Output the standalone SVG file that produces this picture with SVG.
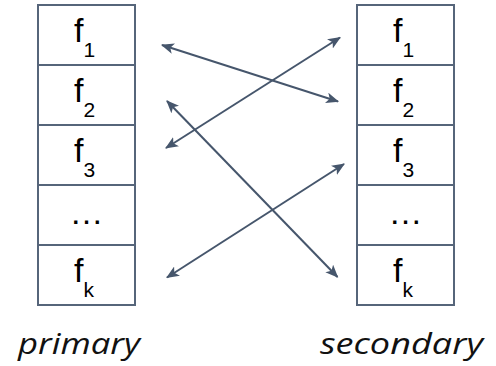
<svg xmlns="http://www.w3.org/2000/svg" width="496" height="366" viewBox="0 0 496 366">
<style>
.cell{fill:#fff;stroke:#56657a;stroke-width:2}
.f{font-family:"Liberation Sans",Arial,sans-serif;font-size:34px;fill:#000}
.sub{font-size:21px}
.lab{font-family:"Open Sans","Liberation Sans",sans-serif;font-style:italic;font-size:29px;fill:#111}
.arr{stroke:#46566c;stroke-width:2;fill:none;marker-start:url(#h);marker-end:url(#h)}
</style>
<defs>
<marker id="h" viewBox="0 0 12 10" refX="11" refY="5" markerWidth="6.5" markerHeight="5.5" orient="auto-start-reverse" markerUnits="strokeWidth">
<path d="M0,0 L12,5 L0,10 L3,5 Z" fill="#46566c"/>
</marker>
</defs>
<g id="primary">
<rect class="cell" x="38" y="5" width="97" height="60"/>
<rect class="cell" x="38" y="65" width="97" height="60"/>
<rect class="cell" x="38" y="125" width="97" height="60"/>
<rect class="cell" x="38" y="185" width="97" height="60"/>
<rect class="cell" x="38" y="245" width="97" height="60"/>
<text class="f" x="74" y="42">f<tspan class="sub" dy="15">1</tspan></text>
<text class="f" x="74" y="102">f<tspan class="sub" dy="15">2</tspan></text>
<text class="f" x="74" y="162">f<tspan class="sub" dy="15">3</tspan></text>
<text class="f" x="86.5" y="224" text-anchor="middle">…</text>
<text class="f" x="74" y="282">f<tspan class="sub" dy="15">k</tspan></text>
<text class="lab" x="79" y="354" text-anchor="middle" textLength="122" lengthAdjust="spacingAndGlyphs">primary</text>
</g>
<g id="secondary">
<rect class="cell" x="357" y="5" width="97" height="60"/>
<rect class="cell" x="357" y="65" width="97" height="60"/>
<rect class="cell" x="357" y="125" width="97" height="60"/>
<rect class="cell" x="357" y="185" width="97" height="60"/>
<rect class="cell" x="357" y="245" width="97" height="60"/>
<text class="f" x="393" y="42">f<tspan class="sub" dy="15">1</tspan></text>
<text class="f" x="393" y="102">f<tspan class="sub" dy="15">2</tspan></text>
<text class="f" x="393" y="162">f<tspan class="sub" dy="15">3</tspan></text>
<text class="f" x="405.5" y="224" text-anchor="middle">…</text>
<text class="f" x="393" y="282">f<tspan class="sub" dy="15">k</tspan></text>
<text class="lab" x="401.5" y="354" text-anchor="middle" textLength="163" lengthAdjust="spacingAndGlyphs">secondary</text>
</g>
<g id="connectors">
<line class="arr" x1="162" y1="45" x2="338" y2="101.5"/>
<line class="arr" x1="166" y1="148" x2="340" y2="37.5"/>
<line class="arr" x1="167" y1="101" x2="337.5" y2="277"/>
<line class="arr" x1="167" y1="277.5" x2="344" y2="164"/>
</g>
</svg>
